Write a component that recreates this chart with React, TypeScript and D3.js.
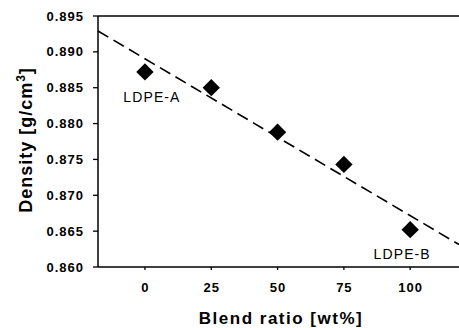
import React from "react";
import * as d3 from "d3";

const blendRatio = [0, 25, 50, 75, 100];
const density = [0.8872, 0.885, 0.8788, 0.8743, 0.8652];
const pointLabels = ["LDPE-A", "", "", "", "LDPE-B"];
const xTicks = [0, 25, 50, 75, 100];
const yTicks = [0.86, 0.865, 0.87, 0.875, 0.88, 0.885, 0.89, 0.895];
const xDomain = [-17.7, 118.4];
const yDomain = [0.86, 0.895];

const W = 459;
const H = 328;
const FONT = "Arial, 'Liberation Sans', Helvetica, sans-serif";

export default function App() {
  const x = d3.scaleLinear().domain(xDomain).range([98, W]);
  const y = d3.scaleLinear().domain(yDomain).range([267, 16]);

  // linear regression trend line
  const mx = d3.mean(blendRatio)!;
  const my = d3.mean(density)!;
  const sxy = d3.sum(blendRatio.map((v, i) => (v - mx) * (density[i] - my)));
  const sxx = d3.sum(blendRatio.map((v) => (v - mx) ** 2));
  const slope = sxy / sxx;
  const icpt = my - slope * mx;
  const trend: [number, number][] = xDomain.map((v) => [v, icpt + slope * v]);
  const line = d3
    .line<[number, number]>()
    .x((d) => x(d[0]))
    .y((d) => y(d[1]));

  const diamond = d3.symbol().type(d3.symbolSquare).size(150)()!;

  return (
    <svg
      width={W}
      height={H}
      style={{ position: "absolute", left: 0, top: 0, display: "block", background: "#fff" }}
      fontFamily={FONT}
    >
      {/* top border */}
      <line x1={x(xDomain[0])} x2={W} y1={y(yDomain[1])} y2={y(yDomain[1])} stroke="#000" strokeWidth={1.5} />
      {/* x axis */}
      <line x1={x(xDomain[0])} x2={W} y1={y(yDomain[0])} y2={y(yDomain[0])} stroke="#000" strokeWidth={1.5} />
      {/* y axis */}
      <line x1={x(xDomain[0])} x2={x(xDomain[0])} y1={y(yDomain[0])} y2={y(yDomain[1])} stroke="#000" strokeWidth={1.5} />

      {yTicks.map((t) => (
        <g key={t}>
          <line x1={x(xDomain[0]) - 5} x2={x(xDomain[0])} y1={y(t)} y2={y(t)} stroke="#000" strokeWidth={1.3} />
          <text
            x={84}
            y={y(t)}
            dy="0.35em"
            textAnchor="end"
            fontSize={13}
            fontWeight="bold"
            letterSpacing={1}
          >
            {d3.format(".3f")(t)}
          </text>
        </g>
      ))}

      {xTicks.map((t) => (
        <g key={t}>
          <line x1={x(t)} x2={x(t)} y1={y(yDomain[0])} y2={y(yDomain[0]) + 3} stroke="#000" strokeWidth={1.3} />
          <text x={x(t) + 0.5} y={292} textAnchor="middle" fontSize={13} fontWeight="bold" letterSpacing={1}>
            {t}
          </text>
        </g>
      ))}

      <path d={line(trend)!} fill="none" stroke="#000" strokeWidth={1.6} strokeDasharray="12,6" />

      {blendRatio.map((v, i) => (
        <path
          key={v}
          d={diamond}
          transform={`translate(${x(v)},${y(density[i])}) rotate(45)`}
          fill="#000"
        />
      ))}

      {pointLabels.map((l, i) =>
        l ? (
          <text
            key={l}
            x={x(blendRatio[i]) + (i === 0 ? 7 : -8)}
            y={y(density[i]) + (i === 0 ? 30 : 29)}
            textAnchor="middle"
            fontSize={14}
            letterSpacing={1.1}
          >
            {l}
          </text>
        ) : null
      )}

      <text x={281} y={324} textAnchor="middle" fontSize={17} fontWeight="bold" letterSpacing={1.5}>
        Blend ratio [wt%]
      </text>

      <text
        transform={`translate(32,140) rotate(-90)`}
        textAnchor="middle"
        fontSize={18}
        fontWeight="bold"
        letterSpacing={1}
      >
        Density [g/cm
        <tspan fontSize={12} dy={-7}>3</tspan>
        <tspan dy={7}>]</tspan>
      </text>
    </svg>
  );
}
